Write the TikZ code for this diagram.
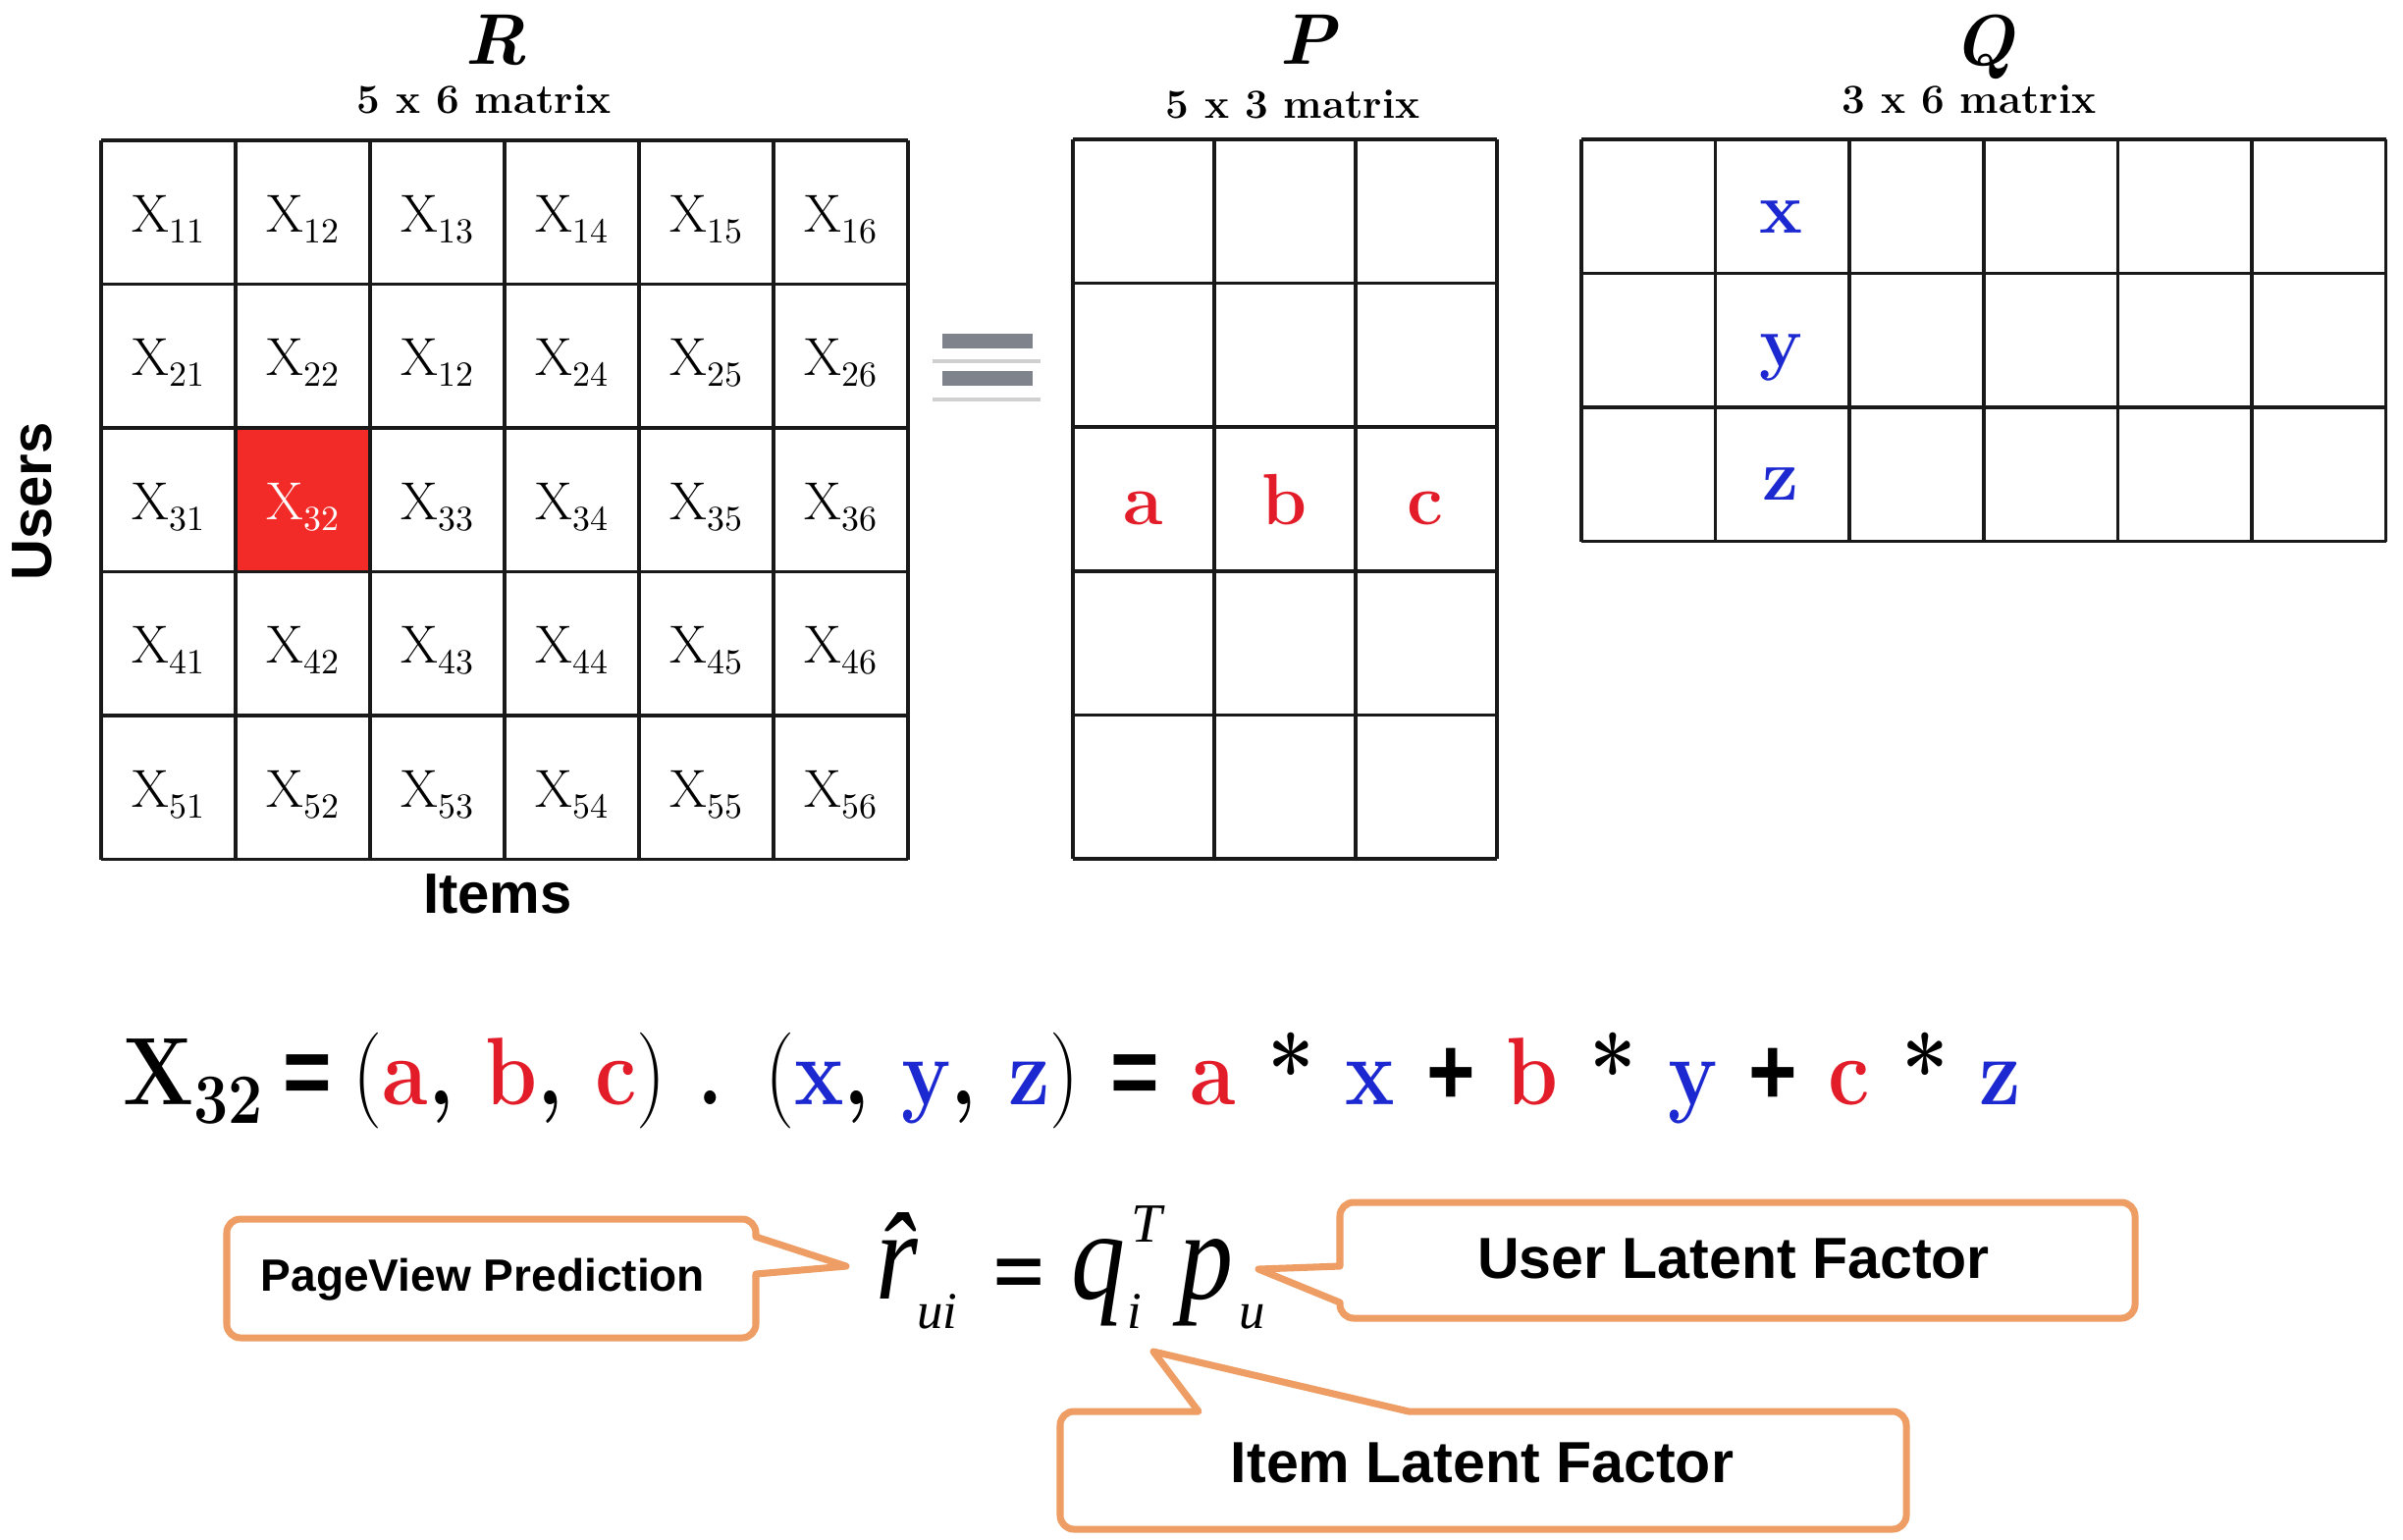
\documentclass[tikz,border=0pt]{standalone}
\usepackage{fontspec}
\usepackage{graphicx}
\usetikzlibrary{shadows}
\newfontfamily\arialf{Liberation Sans}
\newfontfamily\timesf{Liberation Serif}
\definecolor{cellred}{RGB}{242,42,40}
\definecolor{eqred}{RGB}{226,28,40}
\definecolor{eqblue}{RGB}{28,40,208}
\definecolor{callorange}{RGB}{238,158,100}
\definecolor{eqgray}{RGB}{126,131,140}
\definecolor{gridc}{RGB}{25,25,25}
\newcommand{\redt}[1]{\textcolor{eqred}{#1}}
\newcommand{\bluet}[1]{\textcolor{eqblue}{#1}}
\newcommand{\aeqsign}{{\arialf\bfseries =}}
\newcommand{\aplussign}{{\arialf\bfseries +}}
\newcommand{\xsub}[1]{X\raisebox{-3.1pt}{\fontsize{10.2}{12}\selectfont #1}}
\tikzset{
  gridl/.style={draw=gridc, line width=1pt},
  txt/.style={inner sep=0pt, outer sep=0pt},
  xcell/.style={txt, anchor=base, font=\fontsize{15.5}{18}\selectfont},
  letr/.style={txt, anchor=base, font=\bfseries\fontsize{21}{24}\selectfont},
  mname/.style={txt, anchor=base, font=\bfseries\itshape\fontsize{20.8}{24}\selectfont},
  msize/.style={txt, anchor=base, font=\bfseries\fontsize{12}{14}\selectfont},
  axis/.style={txt, font=\arialf\bfseries\fontsize{16.5}{19}\selectfont},
  callout/.style={draw=callorange, line width=2pt, fill=white, line join=round},
  calltext/.style={txt, anchor=base, font=\arialf\bfseries\fontsize{16.8}{20}\selectfont},
  fmain/.style={txt, anchor=base west, font=\timesf\itshape\fontsize{36.8}{40}\selectfont},
  fsub/.style={txt, anchor=base west, font=\timesf\itshape\fontsize{15}{18}\selectfont},
  tile/.style={fill=white, drop shadow={shadow xshift=0pt, shadow yshift=-1.2pt, opacity=0.3, fill=black!60}}
}
\begin{document}
\begin{tikzpicture}[x=0.01cm, y=-0.01cm]
\useasboundingbox (0,0) rectangle (2448,1568);
\fill[white] (0,0) rectangle (2448,1568);

% ---------- R matrix ----------
\fill[cellred] (240,436) rectangle (377,582.5);
\foreach \i in {0,...,6} \draw[gridl] ({103+137*\i},143) -- ({103+137*\i},875.5);
\foreach \j in {0,...,5} \draw[gridl] (103,{143+146.5*\j}) -- (925,{143+146.5*\j});
\foreach \r in {1,...,5}{
  \foreach \c in {1,...,6}{
    \ifnum\r\c=32 \def\tc{white}\else\def\tc{black}\fi
    \ifnum\r\c=23 \def\lab{12}\else\edef\lab{\r\c}\fi
    \node[xcell, text=\tc] (R-\r-\c) at ({103+137*(\c-0.5)},{143+146.5*(\r-1)+73.25+20}) {\xsub{\lab}};
  }
}
\node[mname] (Rname) at (505,65) {R};
\node[msize] (Rsize) at (493,115) {5 x 6 matrix};
\node[axis, rotate=90] (users) at (33,511) {Users};
\node[axis, anchor=base] (items) at (507,930) {Items};

% ---------- equal sign ----------
\fill[tile] (950,330) rectangle (1060,366);
\fill[tile] (950,370) rectangle (1060,405);
\fill[eqgray] (960,340) rectangle (1052,355);
\fill[eqgray] (960,378) rectangle (1052,393);

% ---------- P matrix ----------
\foreach \i in {0,...,3} \draw[gridl] ({1093+144*\i},142) -- ({1093+144*\i},875);
\foreach \j in {0,...,5} \draw[gridl] (1093,{142+146.6*\j}) -- (1525,{142+146.6*\j});
\node[mname] (Pname) at (1332,65) {P};
\node[msize] (Psize) at (1317,120) {5 x 3 matrix};
\node[letr, text=eqred] (Pa) at (1165,534) {a};
\node[letr, text=eqred] (Pb) at (1309,534) {b};
\node[letr, text=eqred] (Pc) at (1452,534) {c};

% ---------- Q matrix ----------
\foreach \i in {0,...,6} \draw[gridl] ({1611+136.6*\i},142) -- ({1611+136.6*\i},551.5);
\foreach \j in {0,...,3} \draw[gridl] (1611,{142+136.5*\j}) -- (2430.6,{142+136.5*\j});
\node[mname] (Qname) at (2021,66) {Q};
\node[msize] (Qsize) at (2006,115) {3 x 6 matrix};
\node[letr, text=eqblue] (Qx) at (1814,237) {x};
\node[letr, text=eqblue] (Qy) at (1814,373) {y};
\node[letr, text=eqblue] (Qz) at (1814,509) {z};

% ---------- equation ----------
\node[txt, anchor=base west] (eq) at (125,1125) {\resizebox{19.33cm}{\height}{\fontsize{27.8}{32}\selectfont\bfseries
X\raisebox{-0.2em}{\fontsize{20.5}{24}\selectfont 32}\hspace{0.25em}\aeqsign\hspace{0.25em}{\mdseries(}\redt{a}, \redt{b}, \redt{c}{\mdseries)} . {\mdseries(}\bluet{x}, \bluet{y}, \bluet{z}{\mdseries)} \aeqsign{} \redt{a} * \bluet{x} \aplussign{} \redt{b} * \bluet{y} \aplussign{} \redt{c} * \bluet{z}}};

% ---------- callouts ----------
\draw[callout] (500,1242) [rounded corners=1.4mm] -- (770,1242) [sharp corners] -- (770,1260) -- (862,1290) -- (770,1298) [rounded corners=1.4mm] -- (770,1363) -- (231,1363) -- (231,1242) -- cycle;
\draw[callout] (1700,1225) [rounded corners=1.4mm] -- (2175,1225) -- (2175,1343) -- (1365,1343) [sharp corners] -- (1365,1327) -- (1282,1293) -- (1365,1290) [rounded corners=1.4mm] -- (1365,1225) -- cycle;
\draw[callout] (1600,1558) [rounded corners=1.4mm] -- (1080,1558) -- (1080,1438) [sharp corners] -- (1221,1438) -- (1175,1377) -- (1435,1438) [rounded corners=1.4mm] -- (1942,1438) -- (1942,1558) -- cycle;

\node[calltext, font=\arialf\bfseries\fontsize{13.1}{16}\selectfont] (pv) at (492,1315) {PageView Prediction};
\node[calltext] (ulf) at (1766,1302) {User Latent Factor};
\node[calltext] (ilf) at (1510,1510) {Item Latent Factor};

% ---------- prediction formula ----------
\node[fmain] (fr) at (892,1323) {\scalebox{0.85}[1]{\^{r}}};
\node[fsub] (fui) at (934,1353) {ui};
\node[txt] (feq) at (1038,1301) {\scalebox{1.25}[1]{\fontsize{20}{24}\selectfont\aeqsign}};
\node[fmain] (fq) at (1091,1323) {\scalebox{0.85}[1]{q}};
\node[fsub, font=\timesf\itshape\fontsize{16}{19}\selectfont] (fT) at (1152,1265) {T};
\node[fsub] (fi) at (1148,1353) {i};
\node[fmain] (fp) at (1201,1323) {\scalebox{0.85}[1]{p}};
\node[fsub] (fu) at (1262,1353) {u};
\end{tikzpicture}
\end{document}
